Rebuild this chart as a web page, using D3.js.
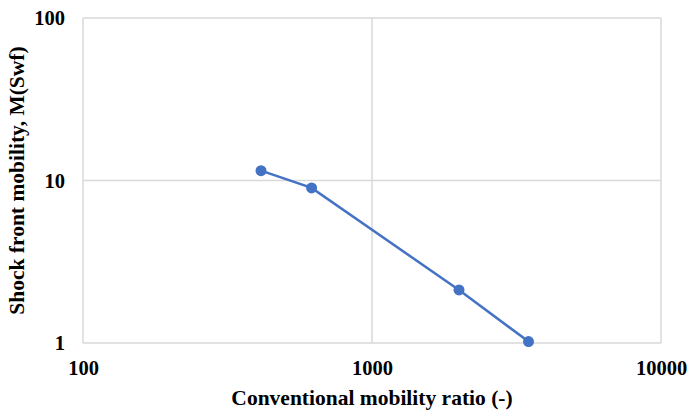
<!DOCTYPE html>
<html>
<head>
<meta charset="utf-8">
<script src="https://cdn.jsdelivr.net/npm/d3@7/dist/d3.min.js"></script>
<style>
  html, body { margin: 0; padding: 0; background: #fff; }
  svg { display: block; }
  text { font-family: "Liberation Serif", "Times New Roman", serif; font-weight: bold; fill: #000; }
</style>
</head>
<body>
<svg id="chart" width="689" height="411"></svg>
<script>
// Conventional mobility ratio vs. shock front mobility
const mobilityRatio = [413, 618, 2000, 3480];
const shockFrontMobility = [11.5, 9.0, 2.12, 1.02];
const xTicks = [100, 1000, 10000];
const yTicks = [1, 10, 100];

const svg = d3.select("#chart");
const margin = { left: 83, top: 18, right: 28, bottom: 68 };
const W = 689, H = 411;

const x = d3.scaleLog().domain([100, 10000]).range([margin.left, W - margin.right]);
const y = d3.scaleLog().domain([1, 100]).range([H - margin.bottom, margin.top]);

const gridColor = "#d9d9d9";

// gridlines
svg.append("g").selectAll("line").data(xTicks).join("line")
  .attr("x1", d => x(d)).attr("x2", d => x(d))
  .attr("y1", y(1)).attr("y2", y(100))
  .attr("stroke", gridColor).attr("stroke-width", 1.5);
svg.append("g").selectAll("line").data(yTicks).join("line")
  .attr("x1", x(100)).attr("x2", x(10000))
  .attr("y1", d => y(d)).attr("y2", d => y(d))
  .attr("stroke", gridColor).attr("stroke-width", 1.5);

// axes (labels only)
const xAxis = svg.append("g")
  .attr("transform", `translate(0,${y(1)})`)
  .call(d3.axisBottom(x).tickValues(xTicks).tickFormat(d3.format("d")).tickSize(0).tickPadding(17));
const yAxis = svg.append("g")
  .attr("transform", `translate(${x(100)},0)`)
  .call(d3.axisLeft(y).tickValues(yTicks).tickFormat(d3.format("d")).tickSize(0).tickPadding(18));
[xAxis, yAxis].forEach(g => {
  g.select(".domain").remove();
  g.selectAll("text").attr("font-size", 20.5).attr("font-family", "Liberation Serif").attr("font-weight", "bold").attr("fill", "#000");
});

// series
const pts = mobilityRatio.map((v, i) => [v, shockFrontMobility[i]]);
svg.append("path").datum(pts)
  .attr("fill", "none").attr("stroke", "#4472c4").attr("stroke-width", 2.5)
  .attr("d", d3.line().x(d => x(d[0])).y(d => y(d[1])));
svg.append("g").selectAll("circle").data(pts).join("circle")
  .attr("cx", d => x(d[0])).attr("cy", d => y(d[1])).attr("r", 5.5)
  .attr("fill", "#4472c4");

// axis titles
svg.append("text")
  .attr("x", (x(100) + x(10000)) / 2).attr("y", 405)
  .attr("text-anchor", "middle").attr("font-size", 21.5)
  .text("Conventional mobility ratio (-)");
svg.append("text")
  .attr("transform", `translate(24,${(y(1) + y(100)) / 2}) rotate(-90)`)
  .attr("text-anchor", "middle").attr("font-size", 21.5)
  .text("Shock front mobility, M(Swf)");
</script>
</body>
</html>
